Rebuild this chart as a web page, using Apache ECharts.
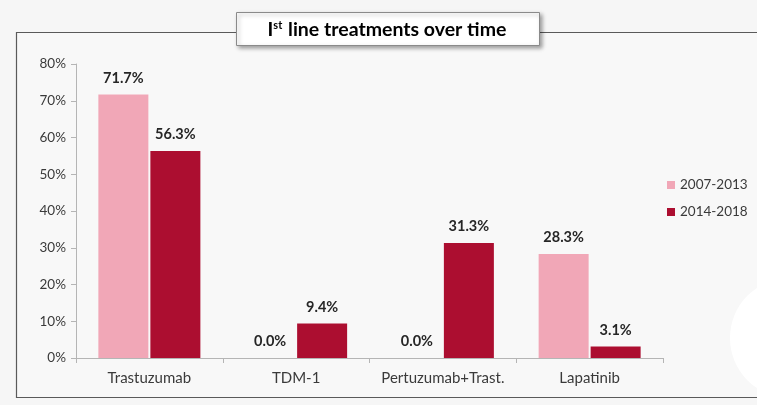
<!DOCTYPE html>
<html>
<head>
<meta charset="utf-8">
<script src="https://cdn.jsdelivr.net/npm/echarts@6/dist/echarts.min.js"></script>
<style>
  html, body { margin: 0; padding: 0; background: #f6f6f6; }
  #chart { width: 757px; height: 405px; }
</style>
</head>
<body>
<div id="chart"></div>
<script>
// data
var categories = ['Trastuzumab', 'TDM-1', 'Pertuzumab+Trast.', 'Lapatinib'];
var seriesNames = ['2007-2013', '2014-2018'];
var values2007 = [71.7, 0.0, 0.0, 28.3];
var values2014 = [56.3, 9.4, 31.3, 3.1];
var yTicks = [0, 10, 20, 30, 40, 50, 60, 70, 80];

var FONT = 'Lato, "Open Sans", sans-serif';
var txt = '#3a3a3a';

var myChart = echarts.init(document.getElementById('chart'));

function barLabel() {
    return {
        show: true,
        position: 'top',
        distance: 9,
        fontFamily: FONT,
        fontWeight: 'bold',
        fontSize: 14.5,
        color: '#262626',
        formatter: function (p) { return p.value.toFixed(1) + '%'; }
    };
}

var option = {
    backgroundColor: '#f6f6f6',
    animation: false,
    graphic: [
        {   // frame background
            type: 'rect',
            shape: { x: 16.5, y: 32.5, width: 760, height: 365 },
            style: { fill: '#f8f8f8' },
            z: -10
        },
        {   // white decoration bottom right
            type: 'circle',
            shape: { cx: 790, cy: 338, r: 60 },
            style: { fill: '#ffffff' },
            z: -9
        },
        {   // frame border
            type: 'rect',
            shape: { x: 16.5, y: 32.5, width: 760, height: 365 },
            style: { fill: null, stroke: '#5a5a5a', lineWidth: 1.2 },
            z: -8
        },
        {   // title box
            type: 'rect',
            shape: { x: 236.5, y: 12.5, width: 303, height: 33 },
            style: {
                fill: '#ffffff', stroke: '#8a8a8a', lineWidth: 1,
                shadowBlur: 4, shadowOffsetX: 2, shadowOffsetY: 2, shadowColor: 'rgba(0,0,0,0.35)'
            },
            z: 10
        },
        {
            type: 'text',
            x: 387, y: 30,
            style: {
                text: '{a|I}{b|st}{a| line treatments over time}',
                align: 'center',
                verticalAlign: 'middle',
                rich: {
                    a: { fontFamily: FONT, fontWeight: 'bold', fontSize: 19.5, color: '#1a1a1a' },
                    b: { fontFamily: FONT, fontWeight: 'bold', fontSize: 11, color: '#1a1a1a', padding: [0, 1, 10, 0] }
                }
            },
            z: 11
        }
    ],
    legend: {
        data: seriesNames,
        orient: 'vertical',
        left: 662,
        top: 173,
        icon: 'rect',
        itemWidth: 8,
        itemHeight: 8,
        itemGap: 13,
        textStyle: { fontFamily: FONT, fontSize: 13.5, color: txt }
    },
    grid: { left: 76, right: 94, top: 64, bottom: 47 },
    xAxis: {
        type: 'category',
        data: categories,
        axisLine: { lineStyle: { color: '#b5b5b5' } },
        axisTick: { show: true, length: 5, lineStyle: { color: '#b5b5b5' } },
        axisLabel: { interval: 0, fontFamily: FONT, fontSize: 15, color: txt, margin: 13 }
    },
    yAxis: {
        type: 'value',
        min: yTicks[0],
        max: yTicks[yTicks.length - 1],
        interval: 10,
        splitLine: { show: false },
        axisLine: { show: true, lineStyle: { color: '#b5b5b5' } },
        axisTick: { show: true, length: 5, lineStyle: { color: '#b5b5b5' } },
        axisLabel: { fontFamily: FONT, fontSize: 13.5, color: txt, margin: 10, formatter: '{value}%' }
    },
    series: [
        {
            name: seriesNames[0],
            type: 'bar',
            data: values2007,
            barWidth: 50,
            barGap: '4%',
            itemStyle: { color: '#f1a7b7' },
            label: barLabel()
        },
        {
            name: seriesNames[1],
            type: 'bar',
            data: values2014,
            barWidth: 50,
            itemStyle: { color: '#ac0e30' },
            label: barLabel()
        }
    ]
};

myChart.setOption(option);
</script>
</body>
</html>
